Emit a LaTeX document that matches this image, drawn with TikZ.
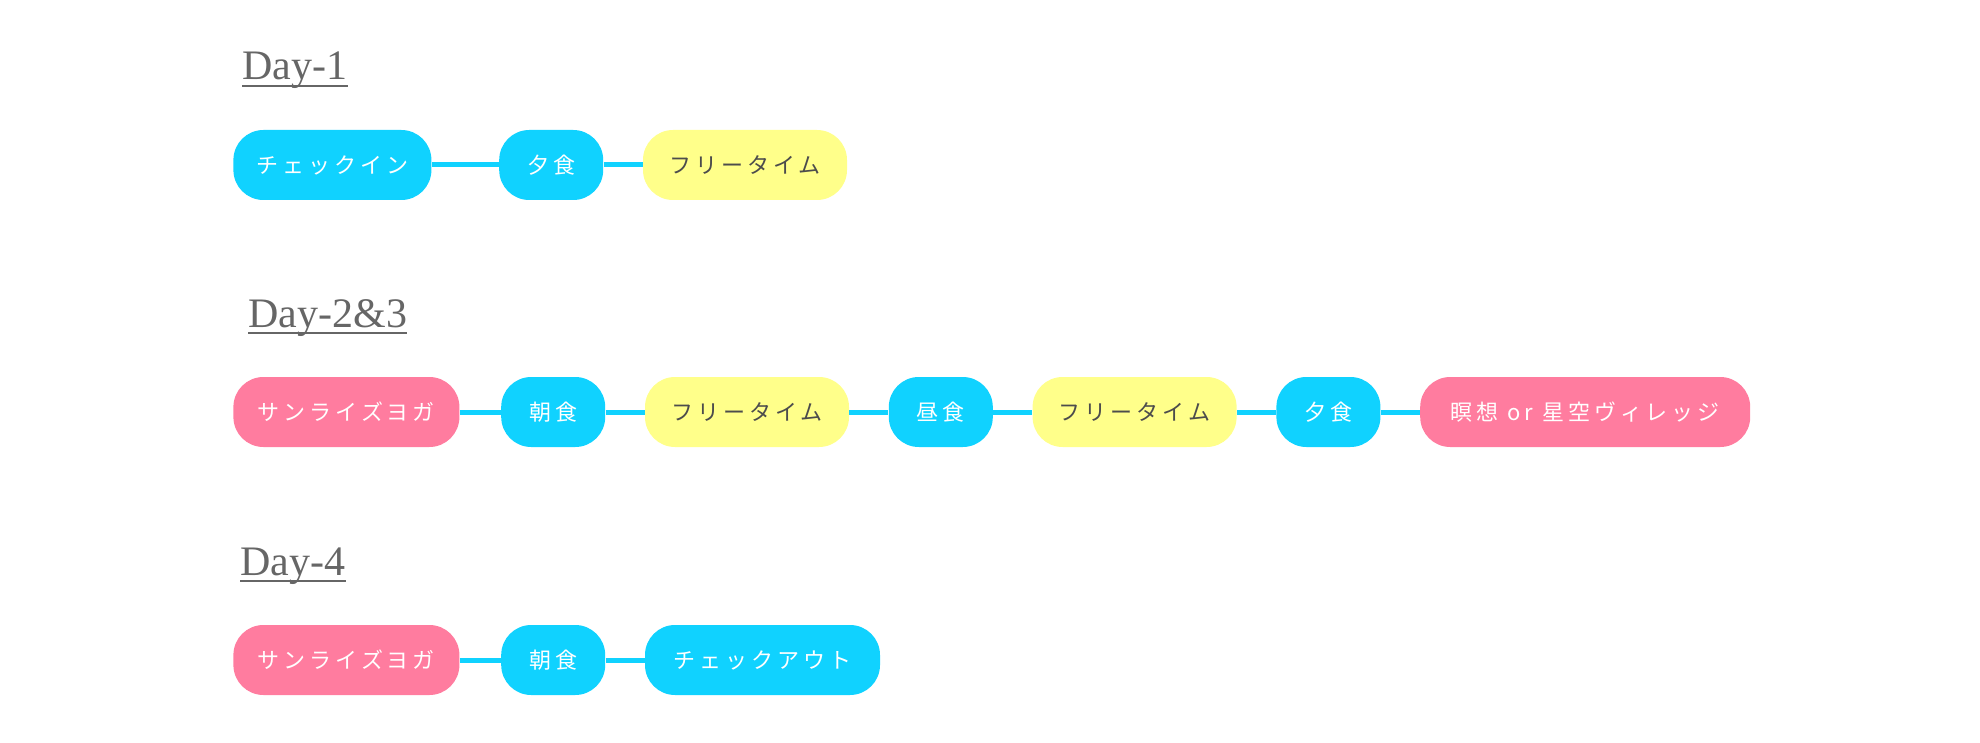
\documentclass[tikz,border=0pt]{standalone}
\usepackage{fontspec}
\setmainfont{Liberation Serif}
\newfontfamily\jpfont[LetterSpace=18]{Noto Sans CJK JP}
\usetikzlibrary{positioning}
\definecolor{skyblue}{HTML}{10D2FF}
\definecolor{yogapink}{HTML}{FF7C9F}
\definecolor{freeyellow}{HTML}{FFFF8A}
\definecolor{labelgray}{HTML}{666666}

\begin{document}
\begin{tikzpicture}[
    x=0.5pt, y=-0.5pt,
    node distance=19.5pt,
    every node/.style={inner sep=0pt},
    slot/.style={rounded corners=15pt, minimum height=35pt, font=\jpfont\fontsize{11pt}{13pt}\selectfont, text=white},
    blue slot/.style={slot, fill=skyblue},
    pink slot/.style={slot, fill=yogapink},
    free slot/.style={slot, fill=freeyellow, text=black!70},
    day label/.style={anchor=base west, font=\fontsize{21pt}{24pt}\selectfont, text=labelgray},
    underline/.style={labelgray, line width=1.2pt},
    link/.style={skyblue, line width=2.5pt}
]
    \useasboundingbox (0,0) rectangle (1980,743);

    % Day-1
    \node[day label] (day1) at (242,80) {Day-1};
    \node[blue slot, minimum width=99pt, anchor=west] (checkin) at (233,165) {チェックイン};
    \node[blue slot, minimum width=52pt, right=33.5pt of checkin] (dinnerA) {夕食};
    \node[free slot, minimum width=102pt, right=of dinnerA] (freeA) {フリータイム};

    % Day-2&3
    \node[day label] (day23) at (248,327) {Day-2\&3};
    \node[pink slot, minimum width=113pt, anchor=west] (yogaB) at (233,412) {サンライズヨガ};
    \node[blue slot, minimum width=52pt, right=20.5pt of yogaB] (breakfastB) {朝食};
    \node[free slot, minimum width=102pt, right=of breakfastB] (freeB) {フリータイム};
    \node[blue slot, minimum width=52pt, right=of freeB] (lunchB) {昼食};
    \node[free slot, minimum width=102pt, right=of lunchB] (freeC) {フリータイム};
    \node[blue slot, minimum width=52pt, right=of freeC] (dinnerB) {夕食};
    \node[pink slot, minimum width=165pt, right=of dinnerB] (starsB) {瞑想 or 星空ヴィレッジ};

    % Day-4
    \node[day label] (day4) at (240,575) {Day-4};
    \node[pink slot, minimum width=113pt, anchor=west] (yogaC) at (233,660) {サンライズヨガ};
    \node[blue slot, minimum width=52pt, right=20.5pt of yogaC] (breakfastC) {朝食};
    \node[blue slot, minimum width=117.5pt, right=of breakfastC] (checkout) {チェックアウト};

    \foreach \d in {day1, day23, day4}
        \draw[underline] ([yshift=-3pt]\d.base west) -- ([yshift=-3pt]\d.base east);

    \foreach \a/\b in {checkin/dinnerA, dinnerA/freeA,
                       yogaB/breakfastB, breakfastB/freeB, freeB/lunchB, lunchB/freeC, freeC/dinnerB, dinnerB/starsB,
                       yogaC/breakfastC, breakfastC/checkout}
        \draw[link] (\a) -- (\b);
\end{tikzpicture}
\end{document}
